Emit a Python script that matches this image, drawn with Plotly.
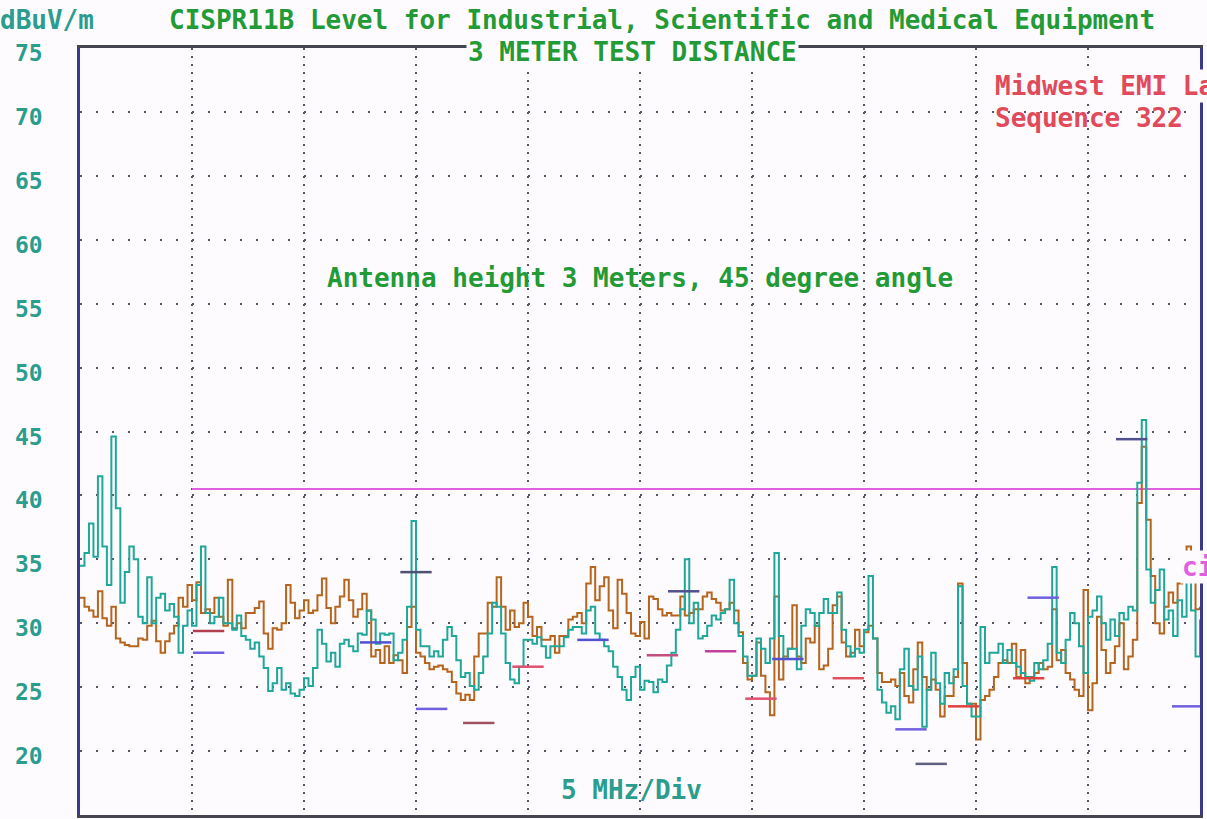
import numpy as np
import plotly.graph_objects as go

# ---------------- data ----------------
START_MHZ = 25.0
STOP_MHZ = 75.0
N_POINTS = 251
freq_mhz = np.linspace(START_MHZ, STOP_MHZ, N_POINTS)

# teal sweep (dBuV/m)
scan_teal = [
    34.5, 35.5, 37.8, 35.2, 41.5, 36, 33, 44.6, 39, 31.6, 34, 36, 35, 30.5, 30, 33.6, 30, 32, 32.3, 31,
    31.5, 30.5, 27.7, 29.8, 31, 29.8, 33, 36, 30.8, 30, 30.5, 32, 30, 30, 29.5, 30.6, 29, 28.7, 28, 28.5,
    27.4, 26.5, 24.7, 25.3, 26.5, 24.8, 25.3, 24.5, 24.3, 24.8, 25.7, 25.1, 26.5, 29.5, 28.4, 27, 27.7, 26.6, 28.4, 28.7,
    28.2, 27.8, 29.2,
    29.1, 31.0, 30.3, 28.4, 29.2, 29.1, 29.2, 27.1, 27.7, 28.7, 31.3, 38, 29.5, 28.2, 28.2, 27.4, 27.8, 27.4, 28.7, 29.7,
    29, 27.1, 25.8, 26.1, 25.1, 24.8, 26.1, 27.4, 29.2, 31.6, 31.3, 29.2, 26.9, 25.6, 25.3, 26.6, 28.7, 28.7, 28.4, 28.9,
    28.2, 27.3, 28.2, 28.2, 28.2, 28.9, 29.5, 29.7, 29.7, 29.2, 31.0, 31.3, 29.2, 28.7, 28.2, 27.8, 26.6, 25.8, 24.8, 24.0,
    25.8, 26.6,
    24.8, 25.5, 25.4, 24.6, 25.6, 25.4, 26.7, 27.7, 29.5, 31.1, 35, 30.0, 31.6, 28.8, 29.0, 29.8, 30.6, 30.3, 30.8, 31.1,
    33.4, 30.0, 29.0, 27.4, 25.9, 25.9, 28.8, 28.0, 26.9, 28.8, 35.5, 29.0, 27.2, 28.0, 28.0, 26.4, 29.8, 31.1, 30.8, 29.8,
    30.8, 31.9, 30.8, 30.8, 32.4, 29.5, 28.2, 27.4, 28.0, 27.7, 29.5, 33.7, 28.8, 24.8, 23.8, 23.0, 23.5, 22.5, 26.4, 28.0,
    25.1, 24.8, 27.4,
    21.9, 24.8, 27.7, 25.3, 23.7, 26.1, 25.3, 26.4, 32.9, 25.1, 23.7, 22.7, 22.7, 29.7, 26.9, 27.7, 27.7, 28.4, 26.9, 27.9,
    26.9, 26.6, 26.1, 25.8, 25.5, 26.9, 26.4, 27.1, 28.4, 34.4, 27.7, 26.9, 28.7, 30.8, 30.0, 28.2, 26.1, 30.5, 31.0, 32.1,
    30.0, 28.7, 30.3, 29.0, 30.8, 30.3, 31.3, 31.0, 41.0, 45.9, 34.2, 31.6, 32.6, 34.2, 30.3, 31.0, 29.0, 31.8, 30.5, 33.4,
    31.0, 27.4, 30.3,
]

# brown sweep (dBuV/m)
scan_brown = [
    32, 31.3, 31, 30.5, 32.5, 30.4, 29.8, 31.3, 28.8, 28.5, 28.3, 28.2, 28.2, 28.8, 28.7, 29.8, 30.2, 28.6, 27.7, 28.6,
    29.2, 29.8, 32, 31.3, 33, 31.8, 33.2, 30.8, 31.1, 30.8, 32, 30.5, 29.8, 33.4, 29.6, 30, 29.6, 30.8, 30.8, 31.2,
    31.7, 29.2, 28, 29.6, 29.5, 30, 33, 31.6, 30.4, 31, 31.8, 30.8, 31, 32.2, 33.5, 31.2, 30, 31.3, 32.1, 33.4,
    31.8, 30.5, 31.1,
    32.3, 31.0, 27.4, 27.9, 26.9, 28.2, 26.9, 27.5, 27.1, 26.1, 29.7, 31.3, 27.7, 27.4, 26.9, 26.4, 26.6, 26.7, 26.4, 26.2,
    25.4, 24.5, 24.0, 24.4, 24.0, 27.4, 29.2, 29.2, 31.6, 31.3, 33.6, 31.3, 29.5, 31.0, 29.7, 30, 31.6, 30.5, 29.0, 29.7,
    28.7, 28.7, 29.0, 27.7, 29.0, 29.0, 30.3, 30.5, 30.8, 30, 33.1, 34.4, 31.8, 32.9, 33.6, 31.0, 29.6, 33.4, 32.3, 30.8,
    29.2, 29.0,
    30.1, 28.8, 32.1, 31.9, 31.1, 30.6, 30.8, 30.6, 30.6, 32.1, 30.6, 30.8, 31.1, 31.1, 32.1, 32.4, 31.9, 31.6, 31.0, 31.1,
    31.6, 31.0, 29.3, 26.9, 25.6, 25.9, 28.5, 25.9, 24.6, 22.8, 32.1, 25.6, 27.4, 28.0, 31.4, 27.4, 26.9, 28.8, 28.5, 29.8,
    26.4, 26.7, 28.0, 31.4, 32.1, 28.5, 27.4, 27.7, 29.5, 28.2, 29.3, 29.8, 28.8, 26.1, 25.4, 25.4, 25.6, 25.1, 26.1, 24.3,
    23.8, 26.4, 28.5,
    25.8, 24.8, 25.6, 24.8, 22.7, 24.3, 24.3, 25.8, 33.1, 26.9, 23.7, 23.7, 20.9, 24.0, 24.3, 24.8, 25.8, 26.9, 27.1, 26.9,
    28.4, 25.8, 27.9, 25.3, 25.8, 26.1, 26.9, 26.4, 26.6, 31.1, 27.1, 27.9, 26.1, 25.6, 24.8, 24.3, 32.6, 23.2, 25.3, 30.5,
    27.9, 26.1, 26.9, 28.2, 30.0, 26.4, 27.4, 28.7, 39.4, 43.8, 38.1, 33.7, 30.0, 29.2, 31.3, 32.4, 31.6, 33.1, 34.7, 36.0,
    34.2, 31.1, 31.3,
]

# CISPR 11 class B limit line
limit_start_mhz = 30.0
limit_stop_mhz = 75.0
limit_level = 40.5

# measured-signal markers
marker_freq = [30.04, 30.04, 37.5, 39.3, 40.0, 42.1, 44.3, 47.2, 50.3, 51.25, 52.9,
               54.7, 55.9, 58.6, 61.4, 62.3, 63.75, 66.65, 67.3, 71.25, 73.75]
marker_level = [27.7, 29.4, 28.5, 34.0, 23.3, 22.2, 26.6, 28.7, 27.5, 32.5, 27.8,
                24.1, 27.2, 25.7, 21.7, 19.0, 23.5, 25.7, 32.0, 44.4, 23.5]
marker_color = ["#7060e0", "#b04050", "#5050d0", "#505070", "#7060e0", "#a05060", "#e05070",
                "#5050d0", "#c05080", "#505090", "#c040a0", "#e05070", "#5050d0", "#e05060",
                "#7060e0", "#606080", "#e04040", "#e04040", "#7060e0", "#505090", "#7060e0"]
MARKER_SPAN = 1.4

# ---------------- figure ----------------
W, H = 1207, 819
L, R, T, B = 80, 7, 48, 4
PW, PH = W - L - R, H - T - B


def px(x):
    return (x - L) / PW


def py(y):
    return 1 - (y - T) / PH


MONO = "DejaVu Sans Mono"
GREEN = "#229a36"
TEAL = "#2a9d8f"
RED = "#e04a5a"
BG = "#fefbfe"

fig = go.Figure()

fig.add_trace(go.Scatter(x=[limit_start_mhz, limit_stop_mhz], y=[limit_level, limit_level],
                         mode="lines", line=dict(color="#e060e0", width=2), hoverinfo="skip"))

fig.add_trace(go.Scatter(x=freq_mhz, y=scan_brown, mode="lines",
                         line=dict(color="#b5651d", width=2, shape="hv"), name="brown"))
fig.add_trace(go.Scatter(x=freq_mhz, y=scan_teal, mode="lines",
                         line=dict(color="#1fa89a", width=2, shape="hv"), name="teal"))

for f, lv, c in zip(marker_freq, marker_level, marker_color):
    fig.add_trace(go.Scatter(x=[f, f + MARKER_SPAN], y=[lv, lv], mode="lines",
                             line=dict(color=c, width=2.5), hoverinfo="skip"))

fig.update_layout(
    width=W, height=H,
    margin=dict(l=L, r=R, t=T, b=B, autoexpand=False),
    paper_bgcolor=BG, plot_bgcolor=BG,
    showlegend=False,
    xaxis=dict(range=[START_MHZ, STOP_MHZ], tick0=25, dtick=5, showticklabels=False,
               automargin=False,
               ticks="", zeroline=False, showgrid=True, gridcolor="#555566", gridwidth=1.6,
               griddash="2px,6px", showline=True, linecolor="#454550", linewidth=2.5, mirror=True),
    yaxis=dict(range=[15, 75], tick0=15, dtick=5, ticks="", zeroline=False, showgrid=True,
               automargin=False,
               gridcolor="#555566", gridwidth=1.6, griddash="2px,14px", showline=True,
               linecolor="#3a3a8c", linewidth=2.5, mirror=True,
               tickfont=dict(family=MONO, size=23, color=TEAL, weight="bold"),
               ticklabelstandoff=30, ticklabelshift=5),
)

ann = [
    dict(text="CISPR11B Level for Industrial, Scientific and Medical Equipment",
         x=px(662), y=py(20), xanchor="center", font=dict(color=GREEN, size=26)),
    dict(text="dBuV/m", x=px(-2), y=py(20), xanchor="left", font=dict(color=TEAL, size=26)),
    dict(text="3 METER TEST DISTANCE", x=px(632), y=py(52), xanchor="center",
         font=dict(color=GREEN, size=26), bgcolor=BG),
    dict(text="Antenna height 3 Meters, 45 degree angle", x=px(640), y=py(278),
         xanchor="center", font=dict(color=GREEN, size=26)),
    dict(text="Midwest EMI Labs", x=px(993), y=py(86), xanchor="left",
         font=dict(color=RED, size=26), bgcolor=BG),
    dict(text="Sequence 322", x=px(993), y=py(118), xanchor="left",
         font=dict(color=RED, size=26)),
    dict(text="5 MHz/Div", x=px(631), y=py(790), xanchor="center",
         font=dict(color=TEAL, size=26)),
    dict(text="cispr", x=px(1180), y=py(567), xanchor="left",
         font=dict(color="#e060e0", size=26), bgcolor=BG),
]
for a in ann:
    a.update(xref="paper", yref="paper", yanchor="middle", showarrow=False)
    a["font"]["family"] = MONO
    a["font"]["weight"] = "bold"
fig.update_layout(annotations=ann)

fig.write_html(
    "out.html",
    config={"displayModeBar": False},
    post_script="document.body.style.margin='0';document.body.style.overflow='hidden';",
)
